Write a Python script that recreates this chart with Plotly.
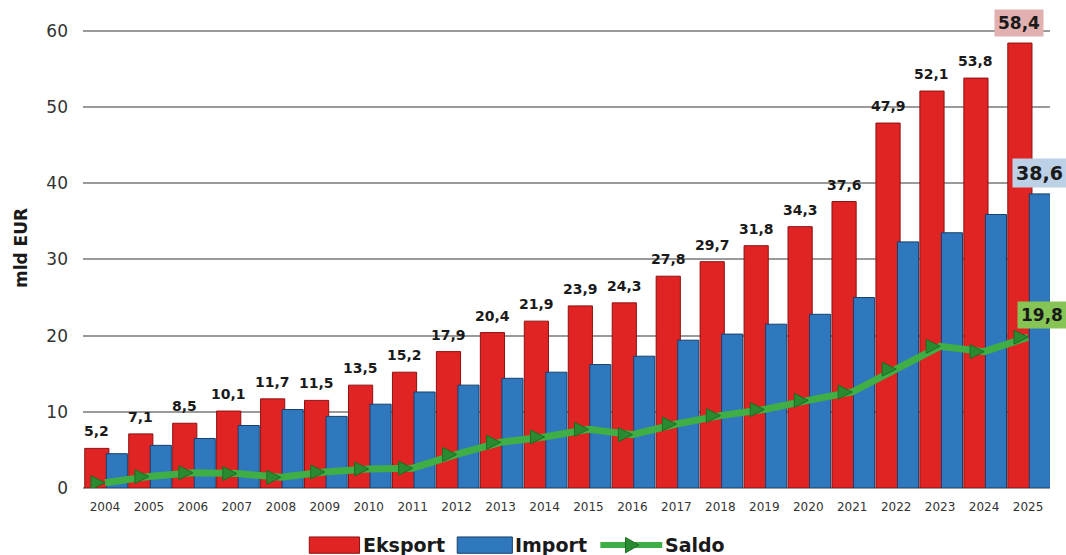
import plotly.graph_objects as go

years = list(range(2004, 2026))
eksport = [5.2, 7.1, 8.5, 10.1, 11.7, 11.5, 13.5, 15.2, 17.9, 20.4, 21.9, 23.9, 24.3, 27.8,
           29.7, 31.8, 34.3, 37.6, 47.9, 52.1, 53.8, 58.4]
import_ = [4.5, 5.6, 6.5, 8.2, 10.3, 9.4, 11.0, 12.6, 13.5, 14.4, 15.2, 16.2, 17.3, 19.4,
           20.2, 21.5, 22.8, 25.0, 32.3, 33.5, 35.9, 38.6]
saldo = [0.7, 1.5, 2.0, 1.9, 1.4, 2.1, 2.5, 2.6, 4.4, 6.0, 6.7, 7.7, 7.0, 8.4,
         9.5, 10.3, 11.5, 12.6, 15.6, 18.6, 17.9, 19.8]
y_ticks = [0, 10, 20, 30, 40, 50, 60]

RED = "#E02424"
BLUE = "#2F78BE"
GREEN = "#3FAE45"
FONT = "DejaVu Sans"

def fmt(v):
    return f"{v:.1f}".replace(".", ",")

fig = go.Figure()
fig.add_trace(go.Bar(
    x=years, y=eksport, name="Eksport", offset=-0.46, width=0.55,
    marker=dict(color=RED, line=dict(color="#8E1010", width=1)),
    hoverinfo="x+y",
))
fig.add_trace(go.Bar(
    x=years, y=import_, name="Import", offset=0.03, width=0.48,
    marker=dict(color=BLUE, line=dict(color="#173F69", width=1)),
    hoverinfo="x+y",
))
fig.add_trace(go.Scatter(
    x=years, y=saldo, name="Saldo", mode="lines+markers",
    line=dict(color=GREEN, width=7),
    marker=dict(symbol="arrow-right", size=14, color="#2A8A30",
                line=dict(color="#1E6B22", width=1)),
))

annotations = []
for yr, v in zip(years[:-1], eksport[:-1]):
    annotations.append(dict(
        x=yr - 0.185, y=v, text=fmt(v), showarrow=False, yanchor="bottom",
        yshift=7, font=dict(family=FONT, size=14, color="#1a1a1a", weight="bold"),
    ))
# highlighted final-year labels
annotations.append(dict(
    x=years[-1] - 0.2, y=eksport[-1], text=fmt(eksport[-1]), showarrow=False,
    yanchor="bottom", yshift=6, bgcolor="#E2B0B0", borderpad=3,
    font=dict(family=FONT, size=17, color="#1a1a1a", weight="bold"),
))
annotations.append(dict(
    x=years[-1] + 0.27, y=import_[-1], text=fmt(import_[-1]), showarrow=False,
    yanchor="bottom", yshift=6, bgcolor="#BCD0E6", borderpad=3,
    font=dict(family=FONT, size=19, color="#1a1a1a", weight="bold"),
))
annotations.append(dict(
    x=years[-1] + 0.32, y=saldo[-1], text=fmt(saldo[-1]), showarrow=False,
    yanchor="bottom", yshift=8, bgcolor="#86C455", borderpad=3,
    font=dict(family=FONT, size=17, color="#1a1a1a", weight="bold"),
))

# custom legend (paper coordinates, below the plot)
ly = -0.119
h = 0.017
ax0, ax1, ah = 0.561, 0.575, 0.016
shapes = [
    dict(type="rect", xref="paper", yref="paper", x0=0.234, x1=0.286, y0=ly - h, y1=ly + h,
         fillcolor=RED, line=dict(color="#8E1010", width=1)),
    dict(type="rect", xref="paper", yref="paper", x0=0.387, x1=0.444, y0=ly - h, y1=ly + h,
         fillcolor=BLUE, line=dict(color="#173F69", width=1)),
    dict(type="line", xref="paper", yref="paper", x0=0.535, x1=0.599, y0=ly, y1=ly,
         line=dict(color=GREEN, width=6)),
    dict(type="path", xref="paper", yref="paper",
         path=f"M {ax0},{ly - ah} L {ax1},{ly} L {ax0},{ly + ah} Z",
         fillcolor="#2A8A30", line=dict(color="#1E6B22", width=1)),
]
leg_font = dict(family=FONT, size=19, color="#1a1a1a", weight="bold")
annotations += [
    dict(xref="paper", yref="paper", x=0.287, y=ly, text="Eksport", showarrow=False,
         xanchor="left", yanchor="middle", font=leg_font),
    dict(xref="paper", yref="paper", x=0.445, y=ly, text="Import", showarrow=False,
         xanchor="left", yanchor="middle", font=leg_font),
    dict(xref="paper", yref="paper", x=0.600, y=ly, text="Saldo", showarrow=False,
         xanchor="left", yanchor="middle", font=leg_font),
]

fig.update_layout(
    width=1066, height=555,
    margin=dict(l=83, r=16, t=8, b=67),
    paper_bgcolor="white", plot_bgcolor="white",
    barmode="overlay", showlegend=False,
    font=dict(family=FONT, color="#333333"),
    annotations=annotations, shapes=shapes,
    xaxis=dict(
        range=[2003.5, 2025.5], tickmode="array", tickvals=years,
        ticktext=[str(y) for y in years], tickfont=dict(size=12, color="#333333"),
        showgrid=False, zeroline=False, showline=False, ticks="",
        ticklabelstandoff=10,
    ),
    yaxis=dict(
        range=[0, 63], tickmode="array", tickvals=y_ticks,
        tickfont=dict(size=17, color="#333333"),
        showgrid=True, gridcolor="#9a9a9a", gridwidth=2,
        zeroline=True, zerolinecolor="#9a9a9a", zerolinewidth=2,
        title=dict(text="mld EUR", font=dict(size=17, color="#1a1a1a", weight="bold"), standoff=14),
        ticks="", ticklabelstandoff=14,
    ),
)

fig.write_html("out.html")
